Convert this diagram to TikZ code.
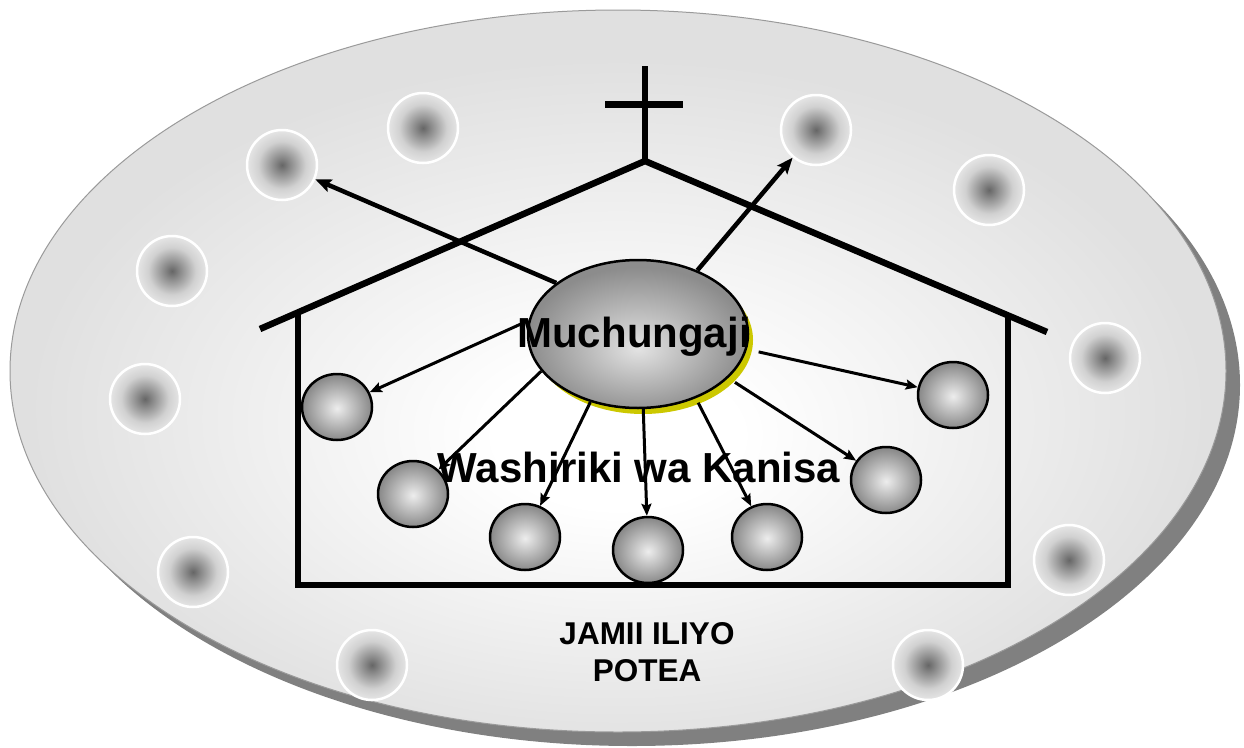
\documentclass[tikz,border=0pt]{standalone}
\usepackage{fontspec}
\setmainfont{Liberation Sans}
\usetikzlibrary{arrows.meta,shapes.geometric}
\definecolor{shadowgray}{HTML}{808080}
\definecolor{rimgray}{HTML}{9A9A9A}
\definecolor{mcyellow}{HTML}{CCC800}
\pgfdeclareradialshading{bgshade}{\pgfpoint{0bp}{-5bp}}{color(0bp)=(white); color(5bp)=(white); color(24bp)=(black!12); color(50bp)=(black!12)}
\pgfdeclareradialshading{outerball}{\pgfpoint{0bp}{0bp}}{color(0bp)=(black!60); color(6bp)=(black!45); color(17bp)=(black!18); color(25bp)=(black!10); color(50bp)=(black!10)}
\pgfdeclareradialshading{innerball}{\pgfpoint{0bp}{-1bp}}{color(0bp)=(black!7); color(25bp)=(black!47); color(50bp)=(black!47)}
\pgfdeclareradialshading{mcball}{\pgfpoint{0bp}{-5bp}}{color(0bp)=(black!11); color(25bp)=(black!45); color(50bp)=(black!45)}
\tikzset{
  bgshadow/.style={ellipse, minimum width=1216pt, minimum height=722pt, inner sep=0pt, fill=shadowgray},
  bgmain/.style={ellipse, minimum width=1216pt, minimum height=722pt, inner sep=0pt, draw=rimgray, line width=1pt, shading=bgshade},
  lostball/.style={circle, minimum size=70pt, inner sep=0pt, draw=white, line width=2.5pt, shading=outerball},
  memberball/.style={ellipse, minimum width=70pt, minimum height=66pt, inner sep=0pt, draw=black, line width=2.5pt, shading=innerball},
  pastorball/.style={ellipse, minimum width=220pt, minimum height=148pt, inner sep=0pt, draw=black, line width=2.5pt, shading=mcball},
  pastorshadow/.style={ellipse, minimum width=220pt, minimum height=148pt, inner sep=0pt, fill=mcyellow},
  housestroke/.style={line width=6.5pt, line join=miter, line cap=butt},
  bigarrow/.style={line width=4.5pt, -{Stealth[length=16pt,width=13pt,inset=3pt]}},
  thinarrow/.style={line width=3pt, -{Stealth[length=12pt,width=10pt,inset=2pt]}},
  biglabel/.style={font=\fontsize{42}{48}\selectfont\bfseries, inner sep=0pt, anchor=base},
  smalllabel/.style={font=\fontsize{31.5}{37}\selectfont\bfseries, inner sep=0pt, align=center}
}
\begin{document}
\begin{tikzpicture}[x=1pt,y=-1pt]
\useasboundingbox (0,0) rectangle (1244,747);
% big community ellipse
\node[bgshadow] (bgs) at (632,385) {};
\node[bgmain] (bg) at (618,371) {};
% lost people (outside)
\node[lostball] (o1) at (282,165) {};
\node[lostball] (o2) at (423,128) {};
\node[lostball] (o3) at (172,271) {};
\node[lostball] (o4) at (145,399) {};
\node[lostball] (o5) at (193,572) {};
\node[lostball] (o6) at (372,665) {};
\node[lostball] (o7) at (816,130) {};
\node[lostball] (o8) at (989,190) {};
\node[lostball] (o9) at (1105,358) {};
\node[lostball] (o10) at (1069,560) {};
\node[lostball] (o11) at (928,665) {};
% church building
\draw[housestroke] (260,329) -- (645,161) -- (1047,332);
\draw[housestroke] (298,312) -- (298,585) -- (1008,585) -- (1008,315);
\draw[housestroke] (645,66) -- (645,162);
\draw[line width=7pt] (605,104) -- (683,104);
% pastor
\node[pastorshadow] (mcs) at (643,340) {};
\node[pastorball] (mc) at (638,334) {};
% members
\node[memberball] (iA) at (337,407) {};
\node[memberball] (iB) at (413,494) {};
\node[memberball] (iC) at (525,537) {};
\node[memberball] (iD) at (648,550) {};
\node[memberball] (iE) at (767,537) {};
\node[memberball] (iF) at (886,480) {};
\node[memberball] (iG) at (953,395) {};
% arrows to outside
\draw[bigarrow] (mc.148) -- (o1);
\draw[bigarrow] (mc.47) -- (o7);
% arrows to members
\draw[thinarrow, shorten <=9pt] (mc.173) -- (iA);
\draw[thinarrow] (mc.201.6) -- (iB);
\draw[thinarrow] (mc.235.7) -- (iC);
\draw[thinarrow] (mc.274.5) -- (iD);
\draw[thinarrow, shorten <=5pt] (mc.312.4) -- (iE);
\draw[thinarrow, shorten <=8pt] (mc.334.8) -- (iF);
\draw[thinarrow, shorten <=12pt] (mc.352.4) -- (iG);
% labels
\node[biglabel] (mctext) at (634,347) {Muchungaji};
\node[biglabel] (wtext) at (639,482) {Washiriki wa Kanisa};
\node[smalllabel] (jtext) at (647,652) {JAMII ILIYO\\POTEA};
\end{tikzpicture}
\end{document}
